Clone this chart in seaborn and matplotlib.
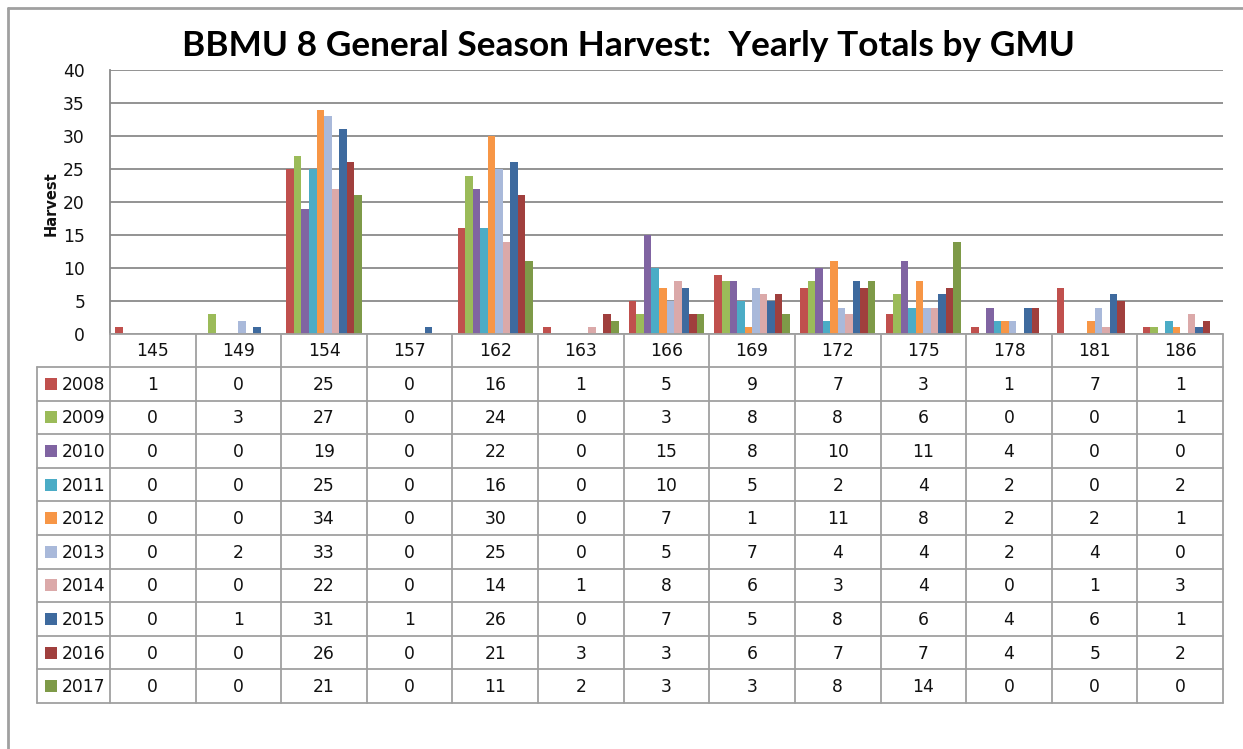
import matplotlib
matplotlib.use("Agg")
import matplotlib.pyplot as plt
from matplotlib.patches import Rectangle
from matplotlib.lines import Line2D
import seaborn as sns
import pandas as pd

# ---------------- data ----------------
gmus = ["145", "149", "154", "157", "162", "163", "166", "169", "172", "175", "178", "181", "186"]
years = ["2008", "2009", "2010", "2011", "2012", "2013", "2014", "2015", "2016", "2017"]
h2008 = [1, 0, 25, 0, 16, 1, 5, 9, 7, 3, 1, 7, 1]
h2009 = [0, 3, 27, 0, 24, 0, 3, 8, 8, 6, 0, 0, 1]
h2010 = [0, 0, 19, 0, 22, 0, 15, 8, 10, 11, 4, 0, 0]
h2011 = [0, 0, 25, 0, 16, 0, 10, 5, 2, 4, 2, 0, 2]
h2012 = [0, 0, 34, 0, 30, 0, 7, 1, 11, 8, 2, 2, 1]
h2013 = [0, 2, 33, 0, 25, 0, 5, 7, 4, 4, 2, 4, 0]
h2014 = [0, 0, 22, 0, 14, 1, 8, 6, 3, 4, 0, 1, 3]
h2015 = [0, 1, 31, 1, 26, 0, 7, 5, 8, 6, 4, 6, 1]
h2016 = [0, 0, 26, 0, 21, 3, 3, 6, 7, 7, 4, 5, 2]
h2017 = [0, 0, 21, 0, 11, 2, 3, 3, 8, 14, 0, 0, 0]
series = [h2008, h2009, h2010, h2011, h2012, h2013, h2014, h2015, h2016, h2017]
colors = ["#C0504D", "#9BBB59", "#8064A2", "#4BACC6", "#F79646",
          "#A9B9DA", "#DBA9A9", "#3E6A9E", "#A03F3D", "#7E9A48"]
yticks = [0, 5, 10, 15, 20, 25, 30, 35, 40]
title = "BBMU 8 General Season Harvest:  Yearly Totals by GMU"
ylabel = "Harvest"

rows = []
for y, vals in zip(years, series):
    for g, v in zip(gmus, vals):
        rows.append({"GMU": g, "Year": y, "Harvest": v})
df = pd.DataFrame(rows)

# ---------------- layout (pixels) ----------------
W, H = 1243, 749
px0, px1, py_top, py_bot = 110, 1223, 70, 334
hdr_bot = 367
tbl_bot = 703
leg_x0 = 37
GRID = "#8A8A8A"
TBL = "#A0A0A0"
TXT = "#111111"
FS = 12.3

sns.set_theme(style="white")
plt.rcParams["font.family"] = ["DejaVu Sans"]

fig = plt.figure(figsize=(W / 100, H / 100), dpi=100)
fig.patch.set_facecolor("white")

def fx(x):
    return x / W

def fy(y):
    return 1 - y / H

ax = fig.add_axes([fx(px0), fy(py_bot), fx(px1 - px0), (py_bot - py_top) / H])
sns.barplot(data=df, x="GMU", y="Harvest", hue="Year", order=gmus, hue_order=years,
            palette=colors, width=0.88, dodge=True, ax=ax, legend=False,
            saturation=1, linewidth=0, errorbar=None)
ax.set_xlim(-0.5, len(gmus) - 0.5)
ax.set_ylim(0, 40)
ax.set_yticks(yticks)
ax.set_yticklabels([str(t) for t in yticks], fontsize=FS, color=TXT, family="DejaVu Sans")
ax.tick_params(axis="y", length=0, pad=18)
ax.set_xticks([])
ax.set_xlabel("")
ax.set_ylabel("")
ax.yaxis.grid(True, color=GRID, linewidth=1.3)
ax.set_axisbelow(True)
for s in ["top", "right", "bottom"]:
    ax.spines[s].set_visible(False)
ax.spines["left"].set_color(GRID)
ax.spines["left"].set_linewidth(1.3)

# y label
fig.text(fx(51), fy(204), ylabel, rotation=90, ha="center", va="center",
         fontsize=10.5, fontweight="bold", color=TXT, family="DejaVu Sans")

# title
fig.text(fx(628), fy(46), title, ha="center", va="center",
         fontsize=25.4, fontweight="bold", family=["Lato", "DejaVu Sans"], color="black")

# ---------------- data table ----------------
tax = fig.add_axes([0, 0, 1, 1], facecolor="none")
tax.set_xlim(0, W)
tax.set_ylim(H, 0)
tax.axis("off")

ncol = len(gmus)
cw = (px1 - px0) / ncol
nrow = len(years)
rh = (tbl_bot - hdr_bot) / nrow

def hline(x0, x1, y):
    tax.add_line(Line2D([x0, x1], [y, y], color=TBL, linewidth=1.3))

def vline(x, y0, y1):
    tax.add_line(Line2D([x, x], [y0, y1], color=TBL, linewidth=1.3))

hline(px0, px1, py_bot)
for i in range(nrow + 1):
    hline(leg_x0, px1, hdr_bot + i * rh)
for j in range(ncol + 1):
    vline(px0 + j * cw, py_bot, tbl_bot)
vline(leg_x0, hdr_bot, tbl_bot)

for j, g in enumerate(gmus):
    tax.text(px0 + (j + 0.5) * cw, (py_bot + hdr_bot) / 2 + 1, g, ha="center", va="center",
             fontsize=FS, color=TXT, family="DejaVu Sans")

for i, (y, vals, c) in enumerate(zip(years, series, colors)):
    yc = hdr_bot + (i + 0.5) * rh
    tax.add_patch(Rectangle((45, yc - 6), 12, 12, facecolor=c, edgecolor="none"))
    tax.text(62, yc + 1, y, ha="left", va="center", fontsize=FS, color=TXT, family="DejaVu Sans")
    for j, v in enumerate(vals):
        tax.text(px0 + (j + 0.5) * cw, yc + 1, str(v), ha="center", va="center",
                 fontsize=FS, color=TXT, family="DejaVu Sans")

# outer chart border (top and left visible)
tax.add_line(Line2D([8, W], [8, 8], color="#A0A0A0", linewidth=2))
tax.add_line(Line2D([8, 8], [8, H], color="#A0A0A0", linewidth=2))

fig.savefig("out.png", dpi=100, facecolor="white")
